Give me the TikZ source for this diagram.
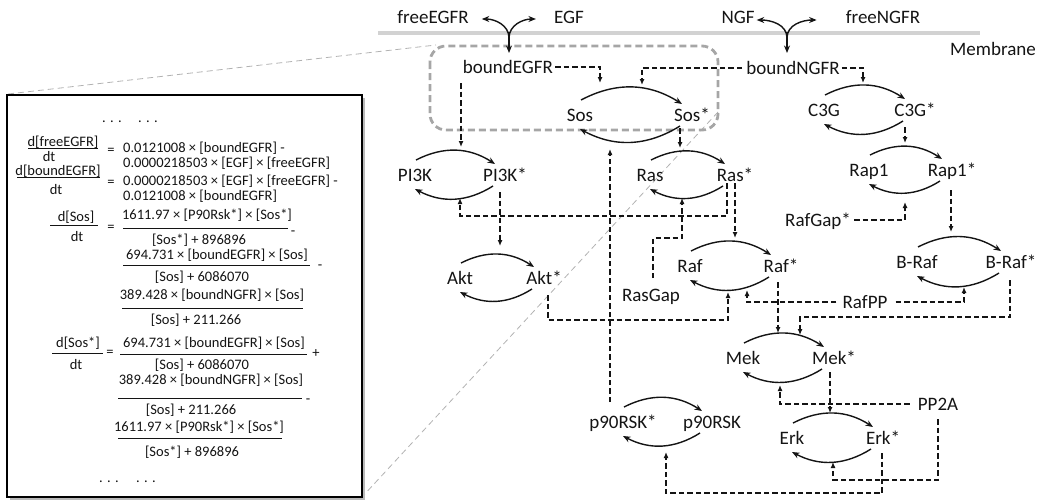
\documentclass[tikz,border=0pt]{standalone}
\usepackage{fontspec}
\setmainfont{Carlito}
\usetikzlibrary{arrows.meta,calc}
\newcommand\cycarcs[2]{%
  \draw[cyc] ($(#1)+(1,-15)$) to[bend left=30] ($(#2)+(-10,-11)$);
  \draw[cyc] ($(#2)+(-12,11)$) to[bend left=30] ($(#1)+(0,14)$);}
\begin{document}
\begin{tikzpicture}[x=1pt,y=-1pt,
  lbl/.style={font=\fontsize{19}{22}\selectfont, inner sep=0pt, text height=12pt, text depth=0pt, text=black!92},
  eq/.style={font=\fontsize{14.5}{17}\selectfont, inner sep=0pt, text height=9.3pt, text depth=0pt, text=black!92},
  bar/.style={line width=0.9pt, black!92},
  cyc/.style={line width=1.4pt, black!92, -{Stealth[length=7.5pt,width=6pt]}},
  dep/.style={line width=1.25pt, black!92, dash pattern=on 5.5pt off 3pt, -{Latex[length=6pt,width=5pt]}},
  sarr/.style={line width=1.4pt, black!92, -{Stealth[length=7.5pt,width=6pt]}},
  zoomline/.style={line width=0.8pt, gray!60, dash pattern=on 6pt off 4pt},
  zoombox/.style={line width=2.8pt, gray!70, dash pattern=on 7pt off 4pt, rounded corners=16pt},
  membrane/.style={line width=4pt, gray!35}]
\useasboundingbox (0,0) rectangle (1040,501);

% zoom lines and equation box
\draw[zoomline] (8,94) -- (436,45);
\draw[zoomline] (718,112) -- (362,497);
\fill[gray!55] (10,98) rectangle (365,500);
\draw[line width=1.5pt, fill=white] (7,95) rectangle (362,497);

% equations
\node[eq] (dA) at (112,118) {. . .};
\node[eq] (dB) at (148,118) {. . .};
\node[eq] (n1) at (63,142) {d[freeEGFR]};
\draw[bar] (28,148) -- (98,148);
\node[eq] (m1) at (49,157) {dt};
\node[eq] (q1) at (111,150) {=};
\node[eq,anchor=west] (r1a) at (123,148) {0.0121008 × [boundEGFR] -};
\node[eq,anchor=west] (r1b) at (123,163) {0.0000218503 × [EGF] × [freeEGFR]};
\node[eq] (n2) at (58,171) {d[boundEGFR]};
\draw[bar] (17,177) -- (100,177);
\node[eq] (m2) at (56,190) {dt};
\node[eq] (q2) at (111,182) {=};
\node[eq,anchor=west] (r2a) at (123,181) {0.0000218503 × [EGF] × [freeEGFR] -};
\node[eq,anchor=west] (r2b) at (123,196) {0.0121008 × [boundEGFR]};
\node[eq] (n3) at (76,217) {d[Sos]};
\draw[bar] (50,225) -- (98,225);
\node[eq] (m3) at (77,237) {dt};
\node[eq] (q3) at (111,227) {=};
\node[eq] (f31n) at (207,215) {1611.97 × [P90Rsk*] × [Sos*]};
\draw[bar] (123,228) -- (288,228);
\node[eq] (f31d) at (199,240) {[Sos*] + 896896};
\node[eq] (s31) at (293,231) {-};
\node[eq] (f32n) at (217,255) {694.731 × [boundEGFR] × [Sos]};
\draw[bar] (123,265) -- (310,265);
\node[eq] (f32d) at (202,277) {[Sos] + 6086070};
\node[eq] (s32) at (320,265) {-};
\node[eq] (f33n) at (212,295) {389.428 × [boundNGFR] × [Sos]};
\draw[bar] (122,308) -- (303,308);
\node[eq] (f33d) at (196,320) {[Sos] + 211.266};
\node[eq] (n4) at (78,343) {d[Sos*]};
\draw[bar] (52,353) -- (103,353);
\node[eq] (m4) at (76,365) {dt};
\node[eq] (q4) at (110,352) {=};
\node[eq] (f41n) at (214,343) {694.731 × [boundEGFR] × [Sos]};
\draw[bar] (120,354) -- (307,354);
\node[eq] (f41d) at (202,365) {[Sos] + 6086070};
\node[eq] (s41) at (316,353) {+};
\node[eq] (f42n) at (211,380) {389.428 × [boundNGFR] × [Sos]};
\draw[bar] (118,398) -- (302,398);
\node[eq] (f42d) at (191,410) {[Sos] + 211.266};
\node[eq] (s42) at (308,399) {-};
\node[eq] (f43n) at (199,427) {1611.97 × [P90Rsk*] × [Sos*]};
\draw[bar] (118,438) -- (282,438);
\node[eq] (f43d) at (192,452) {[Sos*] + 896896};
\node[eq] (dC) at (109,478) {. . .};
\node[eq] (dD) at (146,478) {. . .};

% membrane and zoom box
\draw[membrane] (378,33) -- (980,33);
\draw[zoombox] (430,46) rectangle (718,130);

% network nodes
\node[lbl] (freeEGFR) at (433,17) {freeEGFR};
\node[lbl] (EGF) at (569,17) {EGF};
\node[lbl] (NGF) at (738,17) {NGF};
\node[lbl] (freeNGFR) at (883,17) {freeNGFR};
\node[lbl] (Membrane) at (993,49) {Membrane};
\node[lbl] (bEGFR) at (508,67) {boundEGFR};
\node[lbl] (bNGFR) at (793,68) {boundNGFR};
\node[lbl] (Sos) at (580,115) {Sos};
\node[lbl] (SosS) at (692,115) {Sos*};
\node[lbl] (PI3K) at (415,175) {PI3K};
\node[lbl] (PI3KS) at (505,175) {PI3K*};
\node[lbl] (Ras) at (650,175) {Ras};
\node[lbl] (RasS) at (735,175) {Ras*};
\node[lbl] (C3G) at (824,110) {C3G};
\node[lbl] (C3GS) at (915,110) {C3G*};
\node[lbl] (Rap1) at (869,170) {Rap1};
\node[lbl] (Rap1S) at (952,170) {Rap1*};
\node[lbl] (RafGap) at (818,220) {RafGap*};
\node[lbl] (Akt) at (460,278) {Akt};
\node[lbl] (AktS) at (544,278) {Akt*};
\node[lbl] (RasGap) at (651,295) {RasGap};
\node[lbl] (Raf) at (690,266) {Raf};
\node[lbl] (RafS) at (781,266) {Raf*};
\node[lbl] (BRaf) at (917,262) {B-Raf};
\node[lbl] (BRafS) at (1011,262) {B-Raf*};
\node[lbl] (RafPP) at (865,302) {RafPP};
\node[lbl] (Mek) at (743,358) {Mek};
\node[lbl] (MekS) at (834,358) {Mek*};
\node[lbl] (PP2A) at (938,404) {PP2A};
\node[lbl] (Erk) at (792,438) {Erk};
\node[lbl] (ErkS) at (883,438) {Erk*};
\node[lbl] (p90S) at (623,422) {p90RSK*};
\node[lbl] (p90) at (712,422) {p90RSK};

% receptor forks
\coordinate (fE) at ($(bEGFR)+(1,-29)$);
\draw[sarr] (fE) to[out=90,in=0] ($(freeEGFR.east)+(13,2)$);
\draw[sarr] (fE) to[out=90,in=180] ($(EGF.west)+(-18,2)$);
\draw[sarr] ($(bEGFR)+(1,-35)$) -- ($(bEGFR)+(1,-14)$);
\coordinate (fN) at ($(bNGFR)+(-6,-30)$);
\draw[sarr] (fN) to[out=90,in=0] ($(NGF.east)+(2,3)$);
\draw[sarr] (fN) to[out=90,in=180] ($(freeNGFR.west)+(-29,3)$);
\draw[sarr] ($(bNGFR)+(-6,-36)$) -- ($(bNGFR)+(-6,-15)$);

% cycles
\cycarcs{Sos}{SosS}
\cycarcs{PI3K}{PI3KS}
\cycarcs{Ras}{RasS}
\cycarcs{C3G}{C3GS}
\cycarcs{Rap1}{Rap1S}
\cycarcs{Akt}{AktS}
\cycarcs{Raf}{RafS}
\cycarcs{BRaf}{BRafS}
\cycarcs{Mek}{MekS}
\cycarcs{Erk}{ErkS}
\cycarcs{p90S}{p90}

% dependencies
\draw[dep] ([xshift=2]bEGFR.east) -| ($(Sos)+(20,-32)$);
\draw[dep] ([xshift=-4]bNGFR.west) -| ($(SosS)+(-50,-30)$);
\draw[dep] ($(bEGFR)+(-47,16)$) -- ($(PI3K)+(46,-28)$);
\draw[dep] ($(SosS)+(-12,13)$) -- ($(Ras)+(30,-27)$);
\draw[dep] ($(p90S)+(-13,-20)$) -- ($(Sos)+(30,34)$);
\draw[dep] ($(RasS)+(-8,8)$) -- ($(RasS)+(-8,41)$) -| ($(PI3K)+(45,23)$);
\draw[dep] ($(RasS)+(0,8)$) -- ($(Raf)+(45,-28)$);
\draw[dep] ($(PI3KS)+(-5,17)$) -- ($(Akt)+(40,-32)$);
\draw[dep] ($(RasGap)+(2,-17)$) -- ($(RasGap)+(2,-57)$) -| ($(Ras)+(32,23)$);
\draw[dep] ($(AktS)+(4,17)$) -- ($(AktS)+(4,42)$) -| ($(Raf)+(38,26)$);
\draw[dep] ([xshift=2]bNGFR.east) -| ($(C3G)+(39,-27)$);
\draw[dep] ($(C3GS)+(-10,17)$) -- ($(Rap1)+(36,-27)$);
\draw[dep] ([xshift=3]RafGap.east) -| ($(Rap1)+(36,32)$);
\draw[dep] ($(Rap1S)+(-1,20)$) -- ($(BRaf)+(34,-30)$);
\draw[dep] ([xshift=8]RafPP.east) -| ($(BRaf)+(47,25)$);
\draw[dep] ([xshift=-6]RafPP.west) -| ($(Raf)+(57,24)$);
\draw[dep] ($(RafS)+(-3,16)$) -- ($(Mek)+(35,-25)$);
\draw[dep] ($(BRafS)+(-1,18)$) -- ($(BRafS)+(-1,55)$) -| ($(Mek)+(57,-23)$);
\draw[dep] ($(MekS)+(-4,14)$) -- ($(Erk)+(38,-25)$);
\draw[dep] ([xshift=-8]PP2A.west) -| ($(Mek)+(37,27)$);
\draw[dep] ($(PP2A)+(0,15)$) -- ($(PP2A)+(0,76)$) -| ($(Erk)+(41,24)$);
\draw[dep] ($(ErkS)+(-1,15)$) -- ($(ErkS)+(-1,55)$) -| ($(p90)+(-46,30)$);
\end{tikzpicture}
\end{document}
